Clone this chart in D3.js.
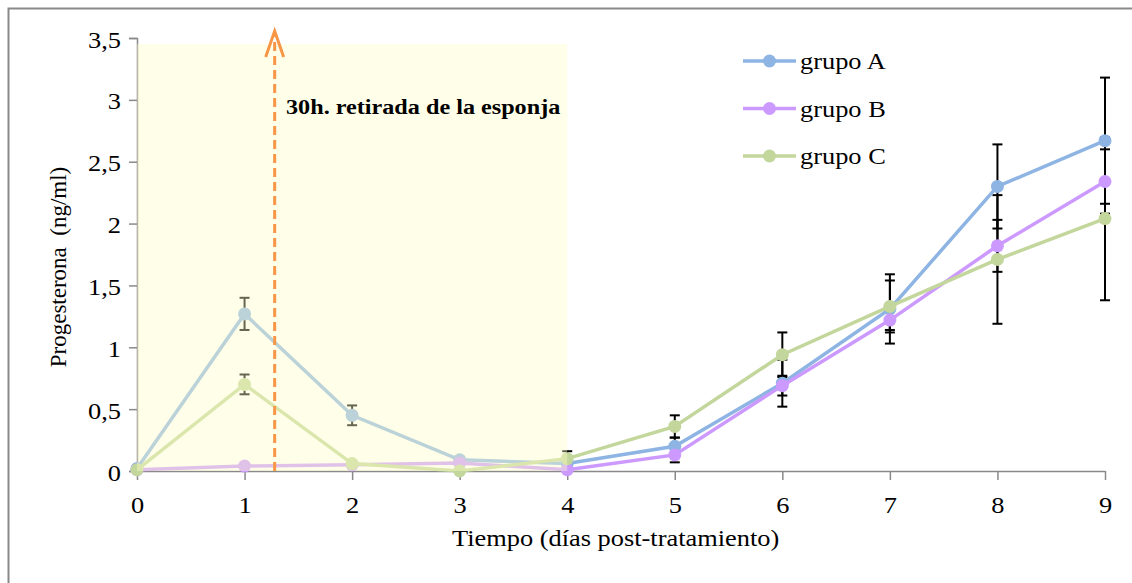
<!DOCTYPE html>
<html>
<head>
<meta charset="utf-8">
<script src="https://cdn.jsdelivr.net/npm/d3@7"></script>
<style>
body { margin: 0; background: #fff; }
text { font-family: "Liberation Serif", "Times New Roman", serif; }
</style>
</head>
<body>
<svg width="1132" height="583"></svg>
<script>
// data
var dias = [0, 1, 2, 3, 4, 5, 6, 7, 8, 9];
var grupoA = [0.02, 1.27, 0.45, 0.09, 0.06, 0.20, 0.71, 1.31, 2.30, 2.67];
var grupoB = [0.01, 0.04, 0.05, 0.065, 0.01, 0.13, 0.69, 1.22, 1.82, 2.34];
var grupoC = [0.01, 0.70, 0.06, 0.00, 0.10, 0.36, 0.94, 1.33, 1.71, 2.04];
var errA = [0.01, 0.13, 0.08, 0.02, 0.02, 0.07, 0.19, 0.28, 0.34, 0.51];
var errB = [0.01, 0.01, 0.01, 0.01, 0.01, 0.06, 0.08, 0.08, 0.21, 0.26];
var errC = [0.01, 0.08, 0.01, 0.01, 0.06, 0.09, 0.18, 0.21, 0.52, 0.66];
var yTicks = [0, 0.5, 1, 1.5, 2, 2.5, 3, 3.5];
var nombres = ["grupo A", "grupo B", "grupo C"];
var colores = ["#8db4e3", "#cc99ff", "#c3d69b"];
var retirada = 1.28; // 30h
var zonaFin = 4;
var zonaTop = 3.45;

var SX = 1.1; // text in the original is a bit wider than Times

var svg = d3.select("svg");

// widen text horizontally, keeping its anchor point
function ancho(sel) {
    sel.each(function() {
        var t = d3.select(this);
        var tx = +t.attr("x") || 0;
        t.attr("x", tx / SX)
            .attr("transform", (t.attr("transform") || "") + " scale(" + SX + ",1)");
    });
}

// outer frame
svg.append("path")
    .attr("d", "M8.5,583V8.5H1132")
    .attr("fill", "none")
    .attr("stroke", "#898989")
    .attr("stroke-width", 2);

var x = d3.scaleLinear().domain([0, 9]).range([137, 1105]);
var y = d3.scaleLinear().domain([0, 3.5]).range([471, 38]);

var series = [grupoA, grupoB, grupoC].map(function(v, i) {
    return {
        name: nombres[i],
        color: colores[i],
        values: dias.map(function(d, j) {
            return { x: d, y: v[j], e: [errA, errB, errC][i][j] };
        })
    };
});

// y axis
var yAxis = svg.append("g")
    .attr("transform", "translate(137,0)")
    .call(d3.axisLeft(y).tickValues(yTicks).tickSize(8).tickPadding(8)
        .tickFormat(function(d) { return String(d).replace(".", ","); }));
yAxis.selectAll("text").style("font-size", "24px").attr("fill", "#000")
    .attr("dy", "0.38em")
    .attr("font-family", "Liberation Serif")
    .call(ancho);
yAxis.selectAll("line, path").attr("stroke", "#898989").attr("stroke-width", 1.5);

// x axis
var xAxis = svg.append("g")
    .attr("transform", "translate(0,471)")
    .call(d3.axisBottom(x).tickValues(dias).tickSize(9).tickPadding(16)
        .tickFormat(d3.format("d")).tickSizeOuter(0));
xAxis.selectAll("text").style("font-size", "24px").attr("fill", "#000")
    .attr("font-family", "Liberation Serif")
    .call(ancho);
xAxis.selectAll("line, path").attr("stroke", "#898989").attr("stroke-width", 1.5);

// axis titles
svg.append("text")
    .attr("transform", "translate(" + x(4.45) + ",546)")
    .attr("text-anchor", "middle")
    .style("font-size", "24px")
    .text("Tiempo (días post-tratamiento)")
    .call(ancho);

svg.append("text")
    .attr("transform", "translate(66,267) rotate(-90)")
    .attr("text-anchor", "middle")
    .style("font-size", "23px")
    .style("white-space", "pre")
    .text("Progesterona  (ng/ml)");

// error bars
var g = svg.append("g");
series.forEach(function(s) {
    var eb = g.selectAll(null).data(s.values).enter().append("g")
        .attr("stroke", "#000").attr("stroke-width", 2);
    eb.append("line")
        .attr("x1", function(d) { return x(d.x); })
        .attr("x2", function(d) { return x(d.x); })
        .attr("y1", function(d) { return y(d.y + d.e); })
        .attr("y2", function(d) { return y(Math.max(0, d.y - d.e)); });
    eb.append("line")
        .attr("x1", function(d) { return x(d.x) - 5; })
        .attr("x2", function(d) { return x(d.x) + 5; })
        .attr("y1", function(d) { return y(d.y + d.e); })
        .attr("y2", function(d) { return y(d.y + d.e); });
    eb.filter(function(d) { return d.y - d.e > 0; }).append("line")
        .attr("x1", function(d) { return x(d.x) - 5; })
        .attr("x2", function(d) { return x(d.x) + 5; })
        .attr("y1", function(d) { return y(d.y - d.e); })
        .attr("y2", function(d) { return y(d.y - d.e); });
});

// lines and markers
var line = d3.line()
    .x(function(d) { return x(d.x); })
    .y(function(d) { return y(d.y); });

series.forEach(function(s) {
    g.append("path")
        .datum(s.values)
        .attr("fill", "none")
        .attr("stroke", s.color)
        .attr("stroke-width", 3.5)
        .attr("d", line);
    g.selectAll(null).data(s.values).enter().append("circle")
        .attr("cx", function(d) { return x(d.x); })
        .attr("cy", function(d) { return y(d.y); })
        .attr("r", 6.5)
        .attr("fill", s.color);
});

// shaded zone (semi transparent, over the lines)
svg.append("rect")
    .attr("x", x(0))
    .attr("y", y(zonaTop))
    .attr("width", x(zonaFin) - x(0))
    .attr("height", y(0) - y(zonaTop))
    .attr("fill", "#ffffc8")
    .attr("opacity", 0.4);

// arrow for sponge withdrawal
svg.append("line")
    .attr("x1", x(retirada)).attr("x2", x(retirada))
    .attr("y1", y(0)).attr("y2", 34)
    .attr("stroke", "#f79646")
    .attr("stroke-width", 3)
    .attr("stroke-dasharray", "9,5");
svg.append("path")
    .attr("d", "M" + (x(retirada) - 9) + ",57L" + x(retirada) + ",31L" + (x(retirada) + 9) + ",57")
    .attr("fill", "none")
    .attr("stroke", "#f79646")
    .attr("stroke-width", 3);

svg.append("text")
    .attr("transform", "translate(286,114)")
    .style("font-size", "22px")
    .style("font-weight", "bold")
    .text("30h. retirada de la esponja")
    .call(ancho);

// legend
var legend = svg.selectAll(".legend")
    .data(series)
    .enter().append("g")
    .attr("class", "legend")
    .attr("transform", function(d, i) { return "translate(743," + (61 + i * 47.5) + ")"; });
legend.append("line")
    .attr("x1", 0).attr("x2", 53)
    .attr("stroke", function(d) { return d.color; })
    .attr("stroke-width", 3.5);
legend.append("circle")
    .attr("cx", 26.5)
    .attr("r", 6.5)
    .attr("fill", function(d) { return d.color; });
legend.append("text")
    .attr("x", 57)
    .attr("y", 8)
    .style("font-size", "24px")
    .text(function(d) { return d.name; })
    .call(ancho);
</script>
</body>
</html>
